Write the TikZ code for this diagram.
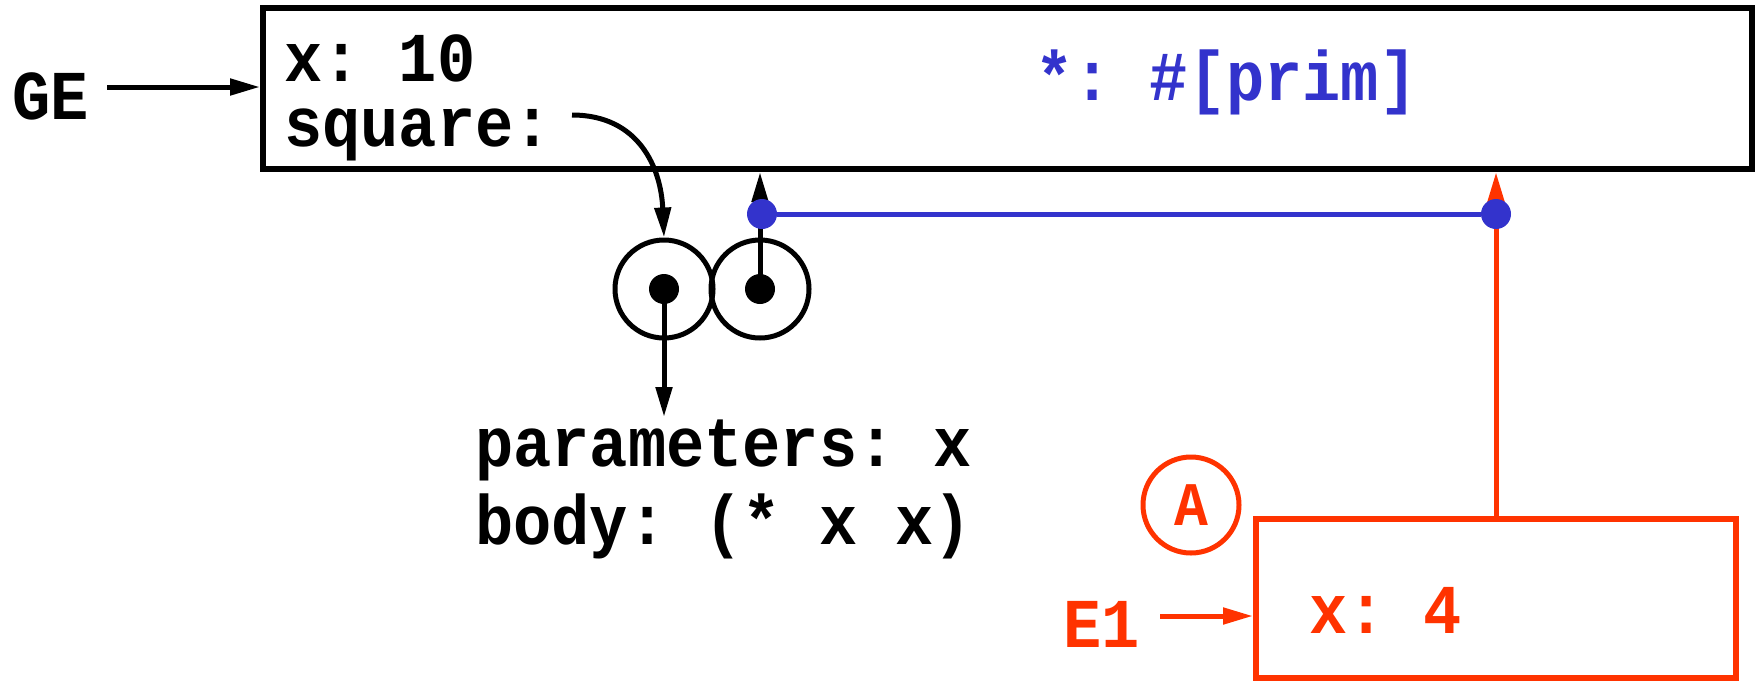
\documentclass[tikz,border=0pt]{standalone}
\usepackage{fontspec}
\setmonofont[FakeStretch=0.91]{Liberation Mono}
\usetikzlibrary{arrows.meta, positioning}
\definecolor{primblue}{HTML}{3333CC}
\definecolor{envred}{HTML}{FF3300}

\begin{document}
\begin{tikzpicture}[x=1pt, y=-1pt,
    frame/.style={draw, line width=6pt, inner sep=0pt},
    lbl/.style={font=\fontsize{70}{80}\selectfont\ttfamily\bfseries, inner sep=0pt},
    ptr/.style={-{Triangle[length=30pt,width=16pt]}, line width=5pt},
    cell/.style={circle, draw, line width=5pt, minimum size=98pt, inner sep=0pt},
    dot/.style={circle, fill, minimum size=30pt, inner sep=0pt}
]
\useasboundingbox (0,0) rectangle (1758,681);

% global environment
\node[frame, minimum width=1489pt, minimum height=161pt] (ge) at (1007.5,88.5) {};
\node[lbl, anchor=base west] (gelbl) at (12,119) {GE};
\node[lbl, anchor=base west] (xten) at (284,81) {x: 10};
\node[lbl, anchor=base west] (sq) at (284,146) {square:};
\node[lbl, anchor=base west, text=primblue] (prim) at (1035,100) {*: \#[prim]};
\coordinate (gein) at (107,87);
\draw[ptr] (gein) -- (gein -| ge.west);

% procedure object
\node[cell] (cA) at (664,289) {};
\node[cell] (cB) at (760,289) {};
\node[dot] (dA) at (cA) {};
\node[dot] (dB) at (cB) {};
\coordinate (sqptr) at (572,115);
\draw[ptr] (sqptr) .. controls (639,115) and (661,168) .. (cA.north);
\node[lbl, anchor=base west, align=left] (params) at (475,466) {parameters: x};
\node[lbl, anchor=base west] (body) at (475,544) {body: (* x x)};
\draw[ptr] (dA.center) -- (664,417);
\draw[ptr] (dB.center) -- (dB |- ge.south);

% frame E1
\node[frame, draw=envred, minimum width=480pt, minimum height=159pt] (e1) at (1496,598.5) {};
\node[lbl, anchor=base west, text=envred] (xfour) at (1309,633) {x: 4};
\node[lbl, anchor=base west, text=envred] (e1lbl) at (1063,647) {E1};
\coordinate (e1in) at (1160,616);
\draw[ptr, envred] (e1in) -- (e1in -| e1.west);
\node[circle, draw=envred, line width=5pt, minimum size=96pt, inner sep=0pt, text=envred,
      font=\fontsize{62}{72}\selectfont\ttfamily\bfseries] (stepA) at (1191,505) {A};
\draw[ptr, envred] (e1.north) -- (e1.north |- ge.south);

% primitive pointer
\node[dot, fill=primblue] (bl) at (762,214) {};
\node[dot, fill=primblue] (br) at (1496,214) {};
\draw[primblue, line width=5pt] (bl) -- (br);
\end{tikzpicture}
\end{document}
